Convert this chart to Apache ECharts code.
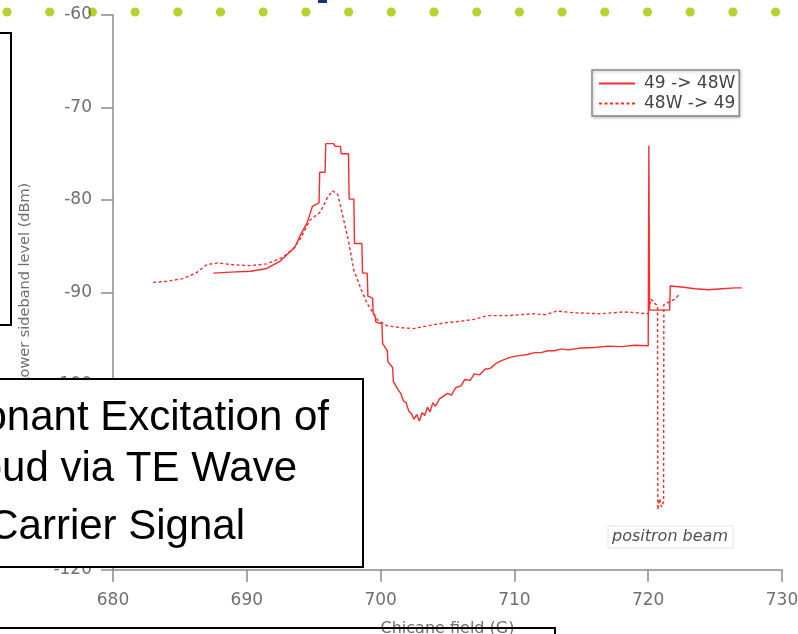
<!DOCTYPE html>
<html>
<head>
<meta charset="utf-8">
<title>Chicane field scan</title>
<script src="https://cdn.jsdelivr.net/npm/echarts@6.0.0/dist/echarts.min.js"></script>
<style>
  html, body { margin: 0; padding: 0; background: #fff; }
  #chart { width: 798px; height: 634px; }
</style>
</head>
<body>
<div id="chart"></div>
<script>
  // axis ticks
  const xTicks = [680, 690, 700, 710, 720, 730]
  const yTicks = [-120, -110, -100, -90, -80, -70, -60]

  // 49 -> 48W (solid)
  const fwdField = [
    687.5, 688.8, 690.3, 691.5, 692.5, 693.6, 694.0, 694.5, 694.9, 695.4,
    695.45, 695.85, 695.9, 696.5, 696.6, 697.0, 697.05, 697.6, 697.65, 698.0,
    698.05, 698.6, 698.65, 699.0, 699.05, 699.4, 699.45, 699.6, 699.65, 700.1,
    700.15, 700.5, 700.55, 700.9, 700.95, 701.3, 701.5, 701.7, 701.9, 702.1,
    702.3, 702.5, 702.7, 702.9, 703.1, 703.3, 703.5, 703.7, 703.9, 704.1,
    704.4, 704.7, 705.0, 705.3, 705.6, 706.0, 706.3, 706.7, 707.0, 707.4,
    707.8, 708.2, 708.6, 709.0, 709.5, 710.0, 710.5, 711.0, 711.5, 712.0,
    712.5, 713.0, 713.5, 714.0, 715.0, 716.0, 717.0, 718.0, 719.0, 720.0,
    720.05, 720.05, 720.1, 721.6, 721.65, 722.5, 723.5, 724.5, 725.5, 726.5,
    727.0
  ]
  const fwdLevel = [
    -87.9, -87.8, -87.7, -87.4, -86.6, -85.1, -83.8, -82.5, -80.7, -80.3,
    -77.0, -77.0, -73.9, -73.9, -74.2, -74.2, -75.0, -75.0, -79.9, -79.9,
    -84.7, -84.7, -87.9, -87.9, -90.4, -90.6, -92.3, -92.6, -93.2, -93.4,
    -95.5, -96.3, -97.5, -98.1, -99.6, -100.5, -100.9, -101.7, -101.9, -102.8,
    -103.1, -103.7, -103.2, -103.9, -103.0, -103.3, -102.4, -102.9, -101.9, -102.3,
    -101.5, -101.2, -100.9, -101.1, -100.3, -100.1, -99.4, -99.5, -98.8, -98.9,
    -98.3, -98.2, -97.7, -97.4, -97.1, -96.9, -96.8, -96.7, -96.5, -96.5,
    -96.3, -96.3, -96.1, -96.2, -96.0, -95.95, -95.8, -95.85, -95.7, -95.75,
    -95.75, -74.1, -91.9, -91.9, -89.3, -89.4, -89.6, -89.7, -89.6, -89.5,
    -89.5
  ]

  // 48W -> 49 (dashed)
  const revField = [
    683.0, 684.0, 685.2, 686.2, 687.0, 687.8, 689.0, 690.3, 691.5, 692.7,
    693.5, 694.0, 694.7, 695.5, 696.0, 696.4, 696.8, 697.2, 697.6, 698.0,
    698.5, 699.0, 699.8, 700.5, 701.5, 702.5, 703.5, 704.7, 706.0, 707.0,
    708.0, 709.5, 711.4, 712.3, 713.2, 714.5, 716.5, 717.3, 718.2, 719.2,
    720.0, 720.2, 720.5, 720.7, 720.72, 720.85, 721.0, 721.15, 721.17, 721.6,
    722.0, 722.4
  ]
  const revLevel = [
    -88.9, -88.8, -88.5, -87.9, -87.0, -86.8, -87.0, -87.1, -86.9, -86.2,
    -85.2, -84.2, -82.2, -81.3, -79.8, -79.0, -79.4, -81.9, -84.4, -87.6,
    -89.5, -91.2, -93.0, -93.6, -93.8, -93.9, -93.6, -93.3, -93.1, -92.9,
    -92.5, -92.5, -92.3, -92.4, -92.0, -92.2, -92.3, -92.2, -92.1, -92.2,
    -92.3, -90.7, -91.2, -91.4, -113.5, -112.3, -113.2, -112.6, -91.3, -91.0,
    -90.7, -90.1
  ]

  const axisGray = '#8c8c8c'
  const labelGray = '#6f6f6f'
  const lineRed = '#ff2a2a'

  const fwdData = fwdField.map((x, i) => [x, fwdLevel[i]])
  const revData = revField.map((x, i) => [x, revLevel[i]])

  // slide decorations around the plot
  const decor = []
  for (let i = 0; i < 19; i++) {
    decor.push({
      type: 'circle',
      shape: { cx: 7 + i * 42.7, cy: 12, r: 4.6 },
      style: { fill: '#b9d12f' },
      z: 0,
    })
  }
  decor.push(
    { type: 'rect', shape: { x: 318, y: -4, width: 9, height: 7 }, style: { fill: '#1f2f7a' }, z: 0 },
    { type: 'rect', shape: { x: -4, y: 33, width: 15, height: 292 }, style: { fill: '#fff', stroke: '#000', lineWidth: 2 }, z: 100 },
    { type: 'rect', shape: { x: -4, y: 379, width: 367, height: 188 }, style: { fill: '#fff', stroke: '#000', lineWidth: 2 }, z: 100 },
    { type: 'text', style: { text: 'Resonant Excitation of', x: 329, y: 418, align: 'right', verticalAlign: 'middle', font: '42px "Liberation Sans", Arial', fill: '#000' }, z: 101 },
    { type: 'text', style: { text: 'Cloud via TE Wave', x: 297, y: 469, align: 'right', verticalAlign: 'middle', font: '42px "Liberation Sans", Arial', fill: '#000' }, z: 101 },
    { type: 'text', style: { text: 'Carrier Signal', x: 245, y: 527, align: 'right', verticalAlign: 'middle', font: '42px "Liberation Sans", Arial', fill: '#000' }, z: 101 },
    { type: 'rect', shape: { x: -4, y: 628, width: 559, height: 20 }, style: { fill: 'none', stroke: '#000', lineWidth: 2 }, z: 100 },
    { type: 'rect', shape: { x: 608, y: 526, width: 125, height: 22 }, style: { fill: '#fff', stroke: '#e4e4e4', lineWidth: 1 }, z: 50 },
    { type: 'text', style: { text: 'positron beam', x: 670, y: 537, align: 'center', verticalAlign: 'middle', font: 'italic 16px "DejaVu Sans"', fill: '#505050' }, z: 51 }
  )

  const chart = echarts.init(document.getElementById('chart'), null, { renderer: 'canvas' })
  chart.setOption({
    animation: false,
    backgroundColor: '#fff',
    textStyle: { fontFamily: 'DejaVu Sans' },
    grid: { left: 113, right: 16, top: 15, bottom: 64, outerBoundsMode: 'none' },
    legend: {
      orient: 'vertical',
      left: 592,
      top: 70,
      padding: [5, 4, 4, 6],
      itemGap: 3,
      itemWidth: 36,
      itemHeight: 14,
      itemStyle: { opacity: 0 },
      backgroundColor: '#fff',
      borderColor: '#8a8a8a',
      borderWidth: 1.5,
      shadowColor: 'rgba(0,0,0,0.25)',
      shadowBlur: 3,
      shadowOffsetX: 1,
      shadowOffsetY: 1,
      textStyle: { fontSize: 17, color: '#444', padding: [0, 0, 0, 4] },
      data: ['49 -> 48W', '48W -> 49'],
    },
    xAxis: {
      type: 'value',
      min: xTicks[0],
      max: xTicks[xTicks.length - 1],
      interval: xTicks[1] - xTicks[0],
      name: 'Chicane field (G)',
      nameLocation: 'middle',
      nameGap: 51,
      nameTextStyle: { fontSize: 16, color: labelGray },
      axisLine: { onZero: false, lineStyle: { color: axisGray, width: 1.5 } },
      axisTick: { length: 12, lineStyle: { color: axisGray, width: 1.5 } },
      axisLabel: { fontSize: 17, color: labelGray, margin: 22 },
      splitLine: { show: false },
    },
    yAxis: {
      type: 'value',
      min: yTicks[0],
      max: yTicks[yTicks.length - 1],
      interval: yTicks[1] - yTicks[0],
      name: 'Lower sideband level (dBm)',
      nameLocation: 'middle',
      nameGap: 80,
      nameTextStyle: { fontSize: 14.5, color: labelGray, padding: [0, 0, 0, 17] },
      axisLine: { show: true, onZero: false, lineStyle: { color: axisGray, width: 1.5 } },
      axisTick: { show: true, length: 12, lineStyle: { color: axisGray, width: 1.5 } },
      axisLabel: { fontSize: 17, color: labelGray, margin: 21 },
      splitLine: { show: false },
    },
    series: [
      {
        name: '49 -> 48W',
        type: 'line',
        data: fwdData,
        symbol: 'none',
        showSymbol: false,
        lineStyle: { color: lineRed, width: 1.4 },
        itemStyle: { color: lineRed },
      },
      {
        name: '48W -> 49',
        type: 'line',
        data: revData,
        symbol: 'none',
        showSymbol: false,
        lineStyle: { color: lineRed, width: 1.4, type: [3, 2.5] },
        itemStyle: { color: lineRed },
      },
    ],
    graphic: decor,
  })
</script>
</body>
</html>
